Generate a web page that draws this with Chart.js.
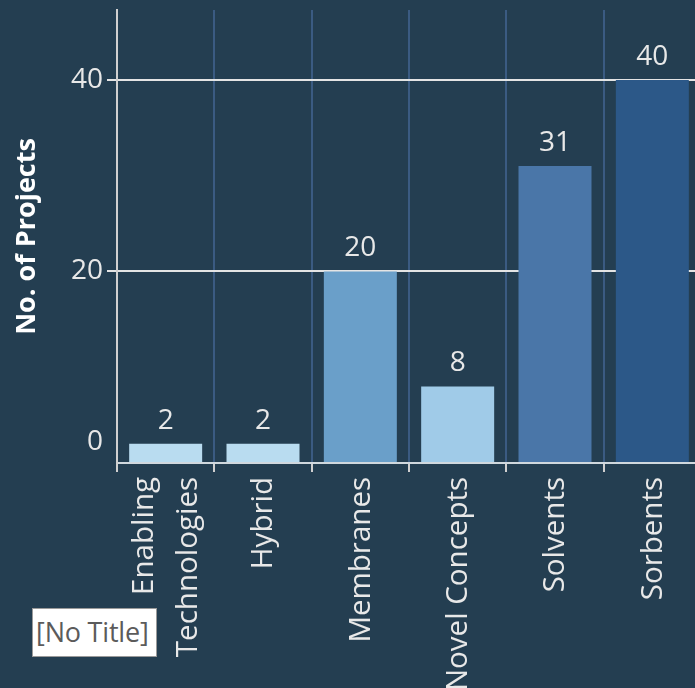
<!DOCTYPE html>
<html>
<head>
<meta charset="utf-8">
<script src="https://cdn.jsdelivr.net/npm/chart.js@4"></script>
<style>
  html, body { margin: 0; padding: 0; background: #243e51; overflow: hidden; }
  #wrap { position: relative; width: 695px; height: 688px; overflow: hidden; }
  #myChart { position: absolute; left: 0; top: 0; }
  #noTitle {
    position: absolute; left: 32px; top: 608px; width: 125px; height: 49px;
    box-sizing: border-box; border: 1px solid #9a9a9a; background: #fff;
    font-family: 'Open Sans', sans-serif; font-size: 27px; color: #5b5b5b;
    line-height: 46px; padding-left: 3px; white-space: nowrap; letter-spacing: -0.2px;
  }
</style>
</head>
<body>
<div id="wrap">
  <canvas id="myChart" width="702" height="720"></canvas>
  <div id="noTitle">[No Title]</div>
</div>
<script>
/** data */
const categories = [['Enabling', 'Technologies'], 'Hybrid', 'Membranes', 'Novel Concepts', 'Solvents', 'Sorbents'];
const projectCounts = [2, 2, 20, 8, 31, 40];
const barColors = ['#b9dcf0', '#b9dcf0', '#6a9fc9', '#a0cbe8', '#4a76a8', '#2c5888'];
const yTicks = [0, 20, 40];

const textColor = '#e8e8e8';

// value labels above the bars
const valueLabels = {
  id: 'valueLabels',
  afterDatasetsDraw(chart) {
    const ctx = chart.ctx;
    const meta = chart.getDatasetMeta(0);
    ctx.save();
    ctx.font = '28px "Open Sans"';
    ctx.fillStyle = textColor;
    ctx.textAlign = 'center';
    ctx.textBaseline = 'alphabetic';
    meta.data.forEach((bar, i) => {
      ctx.fillText(String(projectCounts[i]), bar.x, bar.y - 15);
    });
    ctx.restore();
  },
};

// rotated category labels, multi-line ones centred on the tick
const categoryLabels = {
  id: 'categoryLabels',
  afterDraw(chart) {
    const ctx = chart.ctx;
    const xScale = chart.scales.x;
    const top = xScale.top + 14;
    const lineGap = 44;
    ctx.save();
    ctx.font = '29.5px "Open Sans"';
    ctx.fillStyle = textColor;
    ctx.textAlign = 'right';
    ctx.textBaseline = 'middle';
    categories.forEach((cat, i) => {
      const lines = Array.isArray(cat) ? cat : [cat];
      const cx = xScale.getPixelForTick(i);
      lines.forEach((line, j) => {
        const x = cx + (j - (lines.length - 1) / 2) * lineGap + 1;
        ctx.save();
        ctx.translate(x, top);
        ctx.rotate(-Math.PI / 2);
        ctx.fillText(line, 0, 0);
        ctx.restore();
      });
    });
    ctx.restore();
  },
};

const myChart = new Chart(document.getElementById('myChart'), {
  type: 'bar',
  data: {
    labels: categories,
    datasets: [
      {
        label: 'No. of Projects',
        data: projectCounts,
        backgroundColor: barColors,
        borderWidth: 0,
        barPercentage: 0.75,
        categoryPercentage: 1,
      },
    ],
  },
  options: {
    responsive: false,
    animation: false,
    devicePixelRatio: 1,
    layout: {
      padding: { top: 10, left: 0, right: 1, bottom: 0 },
    },
    plugins: {
      legend: { display: false },
      tooltip: { enabled: false },
    },
    scales: {
      x: {
        offset: true,
        afterFit(scale) {
          scale.height = 720 - 463;
          scale.paddingLeft = 0;
          scale.paddingRight = 0;
        },
        grid: {
          color: (c) => (c.index === 0 ? 'rgba(0,0,0,0)' : '#3b5b82'),
          lineWidth: 2,
          tickLength: 9,
          tickColor: '#d0d0d0',
          tickWidth: 2,
        },
        border: { color: '#d0d8de', width: 2 },
        ticks: {
          display: false,
          autoSkip: false,
        },
      },
      y: {
        min: 0,
        max: 47.3,
        afterFit(scale) {
          scale.width = 117;
          scale.paddingTop = 0;
          scale.paddingBottom = 0;
        },
        afterBuildTicks(scale) {
          scale.ticks = yTicks.map((v) => ({ value: v }));
        },
        grid: {
          color: (c) => (c.tick && c.tick.value === 0 ? 'rgba(0,0,0,0)' : '#e4e4e4'),
          lineWidth: 2,
          tickLength: 10,
          tickColor: (c) => (c.tick && c.tick.value === 0 ? 'rgba(0,0,0,0)' : '#e4e4e4'),
        },
        border: { color: '#d0d0d0', width: 2 },
        ticks: {
          padding: 4,
          color: textColor,
          font: { family: 'Open Sans', size: 28, lineHeight: 1.5 },
          // 0 label sits a bit above the baseline
          callback: (v) => (v === 0 ? ['0', ''] : String(v)),
        },
        title: {
          display: true,
          text: 'No. of Projects',
          color: '#ffffff',
          font: { family: 'Open Sans', size: 27, weight: 'bold' },
          padding: { top: 11, bottom: 0 },
        },
      },
    },
  },
  plugins: [valueLabels, categoryLabels],
});
</script>
</body>
</html>
